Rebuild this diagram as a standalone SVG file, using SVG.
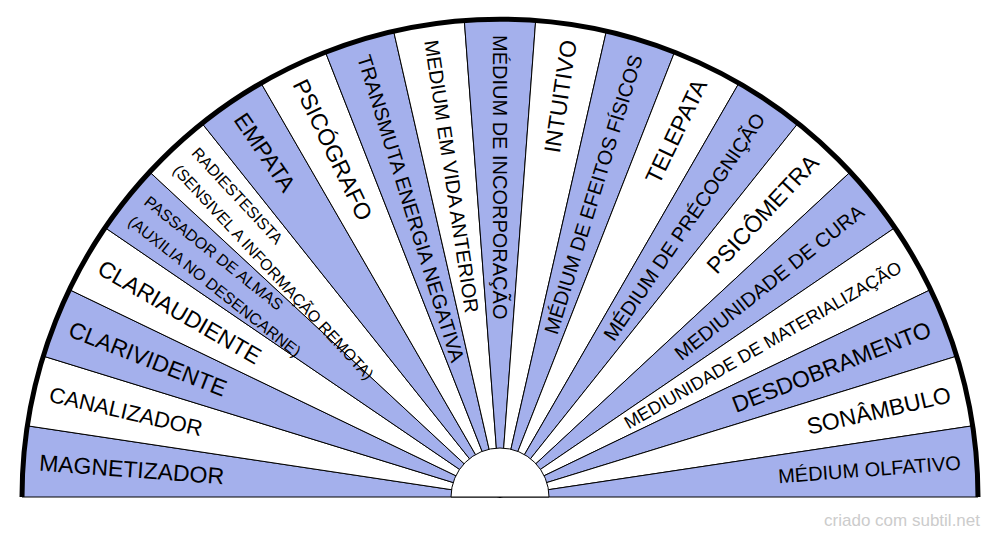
<svg xmlns="http://www.w3.org/2000/svg" width="1000" height="540" viewBox="0 0 1000 540">
<style>
.b{fill:#a4b0ec;stroke:#000;stroke-width:1}
.w{fill:#fff;stroke:#000;stroke-width:1}
text{font-family:"Liberation Sans",Arial,sans-serif;fill:#000;dominant-baseline:central}
.l{text-anchor:start}
.r{text-anchor:end}
</style>
<rect width="1000" height="540" fill="#fff"/>
<g id="sectors">
<path id="s0" class="b" d="M500,497 L22,497 A478,478 0 0 1 27.3,425.8 Z"/>
<path id="s1" class="w" d="M500,497 L27.3,425.8 A478,478 0 0 1 43.2,356.1 Z"/>
<path id="s2" class="b" d="M500,497 L43.2,356.1 A478,478 0 0 1 69.3,289.6 Z"/>
<path id="s3" class="w" d="M500,497 L69.3,289.6 A478,478 0 0 1 105.1,227.7 Z"/>
<path id="s4" class="b" d="M500,497 L105.1,227.7 A478,478 0 0 1 149.6,171.9 Z"/>
<path id="s5" class="w" d="M500,497 L149.6,171.9 A478,478 0 0 1 202,123.3 Z"/>
<path id="s6" class="b" d="M500,497 L202,123.3 A478,478 0 0 1 261,83 Z"/>
<path id="s7" class="w" d="M500,497 L261,83 A478,478 0 0 1 325.4,52 Z"/>
<path id="s8" class="b" d="M500,497 L325.4,52 A478,478 0 0 1 393.6,31 Z"/>
<path id="s9" class="w" d="M500,497 L393.6,31 A478,478 0 0 1 464.3,20.3 Z"/>
<path id="s10" class="b" d="M500,497 L464.3,20.3 A478,478 0 0 1 535.7,20.3 Z"/>
<path id="s11" class="w" d="M500,497 L535.7,20.3 A478,478 0 0 1 606.4,31 Z"/>
<path id="s12" class="b" d="M500,497 L606.4,31 A478,478 0 0 1 674.6,52 Z"/>
<path id="s13" class="w" d="M500,497 L674.6,52 A478,478 0 0 1 739,83 Z"/>
<path id="s14" class="b" d="M500,497 L739,83 A478,478 0 0 1 798,123.3 Z"/>
<path id="s15" class="w" d="M500,497 L798,123.3 A478,478 0 0 1 850.4,171.9 Z"/>
<path id="s16" class="b" d="M500,497 L850.4,171.9 A478,478 0 0 1 894.9,227.7 Z"/>
<path id="s17" class="w" d="M500,497 L894.9,227.7 A478,478 0 0 1 930.7,289.6 Z"/>
<path id="s18" class="b" d="M500,497 L930.7,289.6 A478,478 0 0 1 956.8,356.1 Z"/>
<path id="s19" class="w" d="M500,497 L956.8,356.1 A478,478 0 0 1 972.7,425.8 Z"/>
<path id="s20" class="b" d="M500,497 L972.7,425.8 A478,478 0 0 1 978,497 Z"/>
</g>
<path id="hub" d="M451,497 A49,49 0 0 1 549,497 Z" fill="#fff" stroke="#000" stroke-width="1"/>
<path id="rim" d="M22,497 A478,478 0 0 1 978,497" fill="none" stroke="#000" stroke-width="5"/>
<g id="labels">
<text class="l" font-size="23" transform="translate(39.3,462.5) rotate(4.286)">MAGNETIZADOR</text>
<text class="l" font-size="22" transform="translate(49.6,394.2) rotate(12.857)">CANALIZADOR</text>
<text class="l" font-size="23" transform="translate(69.9,328.2) rotate(21.429)">CLARIVIDENTE</text>
<text class="l" font-size="23" transform="translate(99.9,266) rotate(30)">CLARIAUDIENTE</text>
<text class="l" font-size="16" transform="translate(138.8,209) rotate(38.571)"><tspan x="0" dy="-0.8em">PASSADOR DE ALMAS</tspan><tspan x="0" dy="1.6em">(AUXILIA NO DESENCARNE)</tspan></text>
<text class="l" font-size="16" transform="translate(185.8,158.3) rotate(47.143)"><tspan x="0" dy="-0.8em">RADIESTESISTA</tspan><tspan x="0" dy="1.6em">(SENSIVEL A INFORMAÇÃO REMOTA)</tspan></text>
<text class="l" font-size="23" transform="translate(239.7,115.3) rotate(55.714)">EMPATA</text>
<text class="l" font-size="23" transform="translate(299.5,80.7) rotate(64.286)">PSICÓGRAFO</text>
<text class="l" font-size="20" transform="translate(363.8,55.5) rotate(72.857)">TRANSMUTA ENERGIA NEGATIVA</text>
<text class="l" font-size="20" transform="translate(431.1,40.2) rotate(81.429)">MEDIUM EM VIDA ANTERIOR</text>
<text class="l" font-size="20" transform="translate(500,35) rotate(90)">MÉDIUM DE INCORPORAÇÃO</text>
<text class="r" font-size="23" transform="translate(568.9,40.2) rotate(-81.429)">INTUITIVO</text>
<text class="r" font-size="20" transform="translate(636.2,55.5) rotate(-72.857)">MÉDIUM DE EFEITOS FÍSICOS</text>
<text class="r" font-size="23" transform="translate(700.5,80.7) rotate(-64.286)">TELEPATA</text>
<text class="r" font-size="20" transform="translate(760.3,115.3) rotate(-55.714)">MÉDIUM DE PRÉCOGNIÇÃO</text>
<text class="r" font-size="23" transform="translate(814.2,158.3) rotate(-47.143)">PSICÔMETRA</text>
<text class="r" font-size="20" transform="translate(861.2,209) rotate(-38.571)">MEDIUNIDADE DE CURA</text>
<text class="r" font-size="18" transform="translate(900.1,266) rotate(-30)">MEDIUNIDADE DE MATERIALIZAÇÃO</text>
<text class="r" font-size="23" transform="translate(930.1,328.2) rotate(-21.429)">DESDOBRAMENTO</text>
<text class="r" font-size="23" transform="translate(950.4,394.2) rotate(-12.857)">SONÂMBULO</text>
<text class="r" font-size="20" transform="translate(960.7,462.5) rotate(-4.286)">MÉDIUM OLFATIVO</text>
</g>
<text x="980" y="520" font-size="17" style="fill:#cccccc" text-anchor="end">criado com subtil.net</text>
</svg>
